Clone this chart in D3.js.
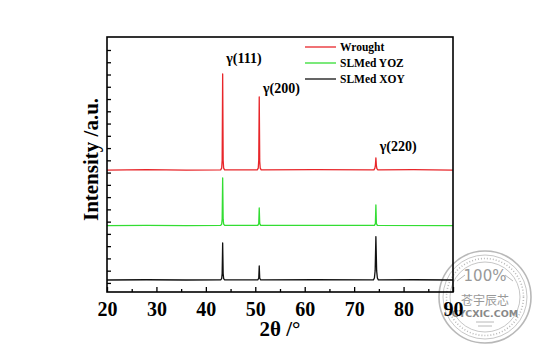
<!DOCTYPE html>
<html>
<head>
<meta charset="utf-8">
<script src="https://cdn.jsdelivr.net/npm/d3@7"></script>
<style>
  body { margin: 0; background: #fff; }
  text { font-family: "Liberation Serif", "Times New Roman", serif; font-weight: bold; }
</style>
</head>
<body>
<div id="d3-container"></div>
<script>
// XRD patterns, [2theta, intensity] (stacked offsets included)
const wrought = [
  [20, 4600], [28, 4620], [36, 4600], [43.0, 4610], [43.2, 4680], [43.3, 5000],
  [43.4, 8520], [43.5, 5000], [43.6, 4680], [43.8, 4610], [50.4, 4610],
  [50.6, 4680], [50.7, 5000], [50.8, 7590], [50.9, 4950], [51.0, 4680],
  [51.2, 4610], [62, 4620], [74.0, 4610], [74.2, 4680], [74.3, 4800],
  [74.4, 5100], [74.5, 4780], [74.6, 4660], [74.8, 4610], [82, 4620], [90, 4600]
];
const slmYOZ = [
  [20, 2340], [28, 2350], [36, 2340], [43.0, 2345], [43.2, 2400], [43.3, 2600],
  [43.4, 4280], [43.5, 2600], [43.6, 2400], [43.8, 2345], [50.5, 2345],
  [50.7, 2420], [50.8, 3060], [50.9, 2420], [51.1, 2345], [62, 2350],
  [74.1, 2345], [74.3, 2420], [74.4, 3180], [74.5, 2420], [74.7, 2345], [90, 2340]
];
const slmXOY = [
  [20, 120], [28, 130], [36, 120], [43.0, 125], [43.2, 180], [43.3, 380],
  [43.4, 1630], [43.5, 380], [43.6, 180], [43.8, 125], [50.5, 125],
  [50.7, 190], [50.8, 690], [50.9, 190], [51.1, 125], [62, 130],
  [73.9, 125], [74.1, 200], [74.25, 500], [74.4, 1890], [74.55, 500],
  [74.7, 200], [74.9, 125], [82, 130], [90, 120]
];

const seriesNames = ["Wrought", "SLMed YOZ", "SLMed XOY"];
const seriesColors = ["#e8262a", "#33dd33", "#111111"];
const xTicks = [20, 30, 40, 50, 60, 70, 80, 90];
const xMinorTicks = [25, 35, 45, 55, 65, 75, 85];
const yTicks = d3.range(0, 10000, 500);

// peak labels: text, 2theta, intensity where the label sits
const peakLabels = ["γ(111)", "γ(200)", "γ(220)"];
const peakLabelX = [47.7, 55.3, 78.9];
const peakLabelY = [8970, 7750, 5370];

// Chart dimensions
const width = 539;
const height = 352;
const margin = { top: 37, right: 86, bottom: 60, left: 107 };
const innerWidth = width - margin.left - margin.right;
const innerHeight = height - margin.top - margin.bottom;

const svg = d3
  .select("#d3-container")
  .append("svg")
  .attr("width", width)
  .attr("height", height);

// watermark stamp (bottom right)
const stamp = svg.append("g")
  .attr("transform", "translate(485, 297)")
  .attr("fill", "none")
  .attr("stroke", "#b8b8b8");
stamp.append("circle").attr("r", 46).attr("stroke-width", 1.6);
stamp.append("circle").attr("r", 42).attr("stroke-width", 0.8);
stamp.append("circle").attr("r", 38.5).attr("stroke-width", 1.6).attr("stroke-dasharray", "1,2");
stamp.append("circle").attr("r", 35).attr("stroke-width", 0.8);
stamp.append("text")
  .attr("y", -16).attr("text-anchor", "middle")
  .attr("fill", "#999").attr("stroke", "none")
  .style("font-family", "DejaVu Sans").style("font-weight", "normal")
  .style("font-size", "15px")
  .text("100%");
stamp.append("line").attr("x1", -28).attr("y1", -16).attr("x2", -20).attr("y2", -22).attr("stroke-width", 1);
stamp.append("line").attr("x1", 20).attr("y1", -22).attr("x2", 28).attr("y2", -16).attr("stroke-width", 1);
stamp.append("text")
  .attr("y", 8).attr("text-anchor", "middle")
  .attr("fill", "#999").attr("stroke", "none")
  .style("font-family", "Noto Sans CJK SC").style("font-weight", "normal")
  .style("font-size", "12px")
  .text("苍宇辰芯");
stamp.append("text")
  .attr("y", 20).attr("text-anchor", "middle")
  .attr("fill", "#888").attr("stroke", "none")
  .style("font-family", "DejaVu Sans").style("font-size", "9.5px")
  .text("CYCXIC.COM");
stamp.append("line").attr("x1", -9).attr("y1", 25).attr("x2", 9).attr("y2", 25).attr("stroke-width", 1);
stamp.append("line").attr("x1", -7).attr("y1", 29).attr("x2", 7).attr("y2", 29).attr("stroke-width", 1);

const chart = svg
  .append("g")
  .attr("transform", `translate(${margin.left}, ${margin.top})`);

// Scales
const xScale = d3.scaleLinear().domain([20, 90]).range([0, innerWidth]);
const yScale = d3.scaleLinear().domain([-370, 10030]).range([innerHeight, 0]);

// Lines
const line = d3.line()
  .x((d) => xScale(d[0]))
  .y((d) => yScale(d[1]));

[wrought, slmYOZ, slmXOY].forEach((data, i) => {
  chart.append("path")
    .datum(data)
    .attr("fill", "none")
    .attr("stroke", seriesColors[i])
    .attr("stroke-width", 1.3)
    .attr("stroke-linejoin", "round")
    .attr("d", line);
});

// X axis, ticks pointing inward
const xAxis = d3.axisBottom(xScale).tickValues(xTicks).tickSize(-5).tickPadding(9).tickFormat(d3.format("d"));
const xg = chart.append("g")
  .attr("transform", `translate(0, ${innerHeight})`)
  .call(xAxis);
xg.select(".domain").remove();
xg.selectAll("line").attr("stroke", "#000").attr("stroke-width", 1.3);
xg.selectAll("text").attr("fill", "#000").style("font-size", "20px").attr("dy", "0.75em");

const xMinor = d3.axisBottom(xScale).tickValues(xMinorTicks).tickSize(-3).tickFormat("");
const xmg = chart.append("g")
  .attr("transform", `translate(0, ${innerHeight})`)
  .call(xMinor);
xmg.select(".domain").remove();
xmg.selectAll("text").remove();
xmg.selectAll("line").attr("stroke", "#000").attr("stroke-width", 1.3);

// Y axis, ticks only
const yAxis = d3.axisLeft(yScale).tickValues(yTicks).tickSize(-4).tickFormat("");
const yg = chart.append("g").call(yAxis);
yg.select(".domain").remove();
yg.selectAll("text").remove();
yg.selectAll("line").attr("stroke", "#000").attr("stroke-width", 1.3);

// Frame
chart.append("rect")
  .attr("width", innerWidth)
  .attr("height", innerHeight)
  .attr("fill", "none")
  .attr("stroke", "#000")
  .attr("stroke-width", 1.6);

// Axis titles
svg.append("text")
  .attr("x", margin.left + innerWidth / 2)
  .attr("y", 336)
  .attr("text-anchor", "middle")
  .style("font-size", "21px")
  .text("2θ /°");

svg.append("text")
  .attr("transform", `translate(98, ${margin.top + innerHeight / 2 - 5}) rotate(-90)`)
  .attr("text-anchor", "middle")
  .style("font-size", "21px")
  .text("Intensity /a.u.");

// Peak labels
chart.selectAll(".peak-label")
  .data(peakLabels)
  .enter()
  .append("text")
  .attr("class", "peak-label")
  .attr("x", (d, i) => xScale(peakLabelX[i]))
  .attr("y", (d, i) => yScale(peakLabelY[i]))
  .attr("text-anchor", "middle")
  .style("font-size", "14px")
  .text((d) => d);

// Legend
const legend = svg.append("g").attr("transform", "translate(305, 47)");
const legendItem = legend.selectAll(".legend-item")
  .data(seriesNames)
  .enter()
  .append("g")
  .attr("class", "legend-item")
  .attr("transform", (d, i) => `translate(0, ${i * 16})`);

legendItem.append("line")
  .attr("x1", 0).attr("x2", 31)
  .attr("stroke", (d, i) => seriesColors[i])
  .attr("stroke-width", 1.3);

legendItem.append("text")
  .attr("x", 35)
  .attr("y", 4)
  .style("font-size", "11.5px")
  .text((d) => d);
</script>
</body>
</html>
